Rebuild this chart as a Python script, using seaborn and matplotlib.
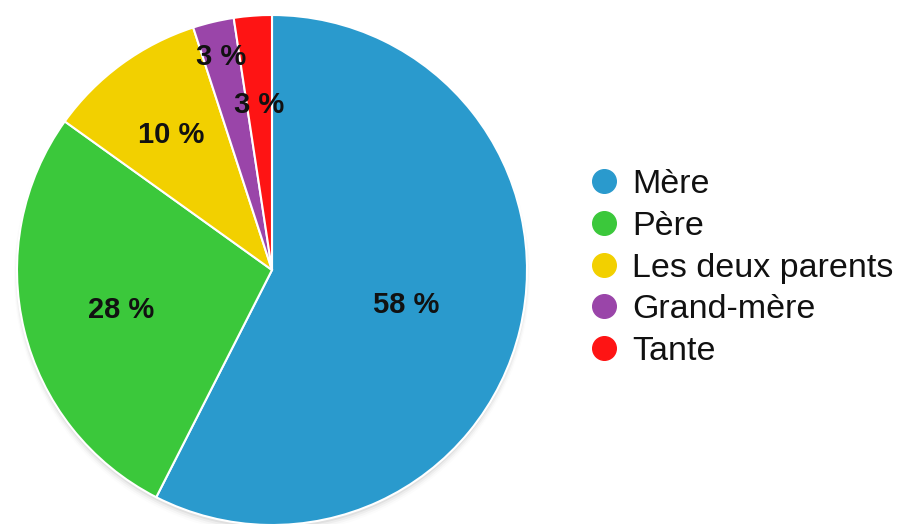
import matplotlib
matplotlib.use("Agg")
import matplotlib.pyplot as plt
from matplotlib.lines import Line2D
import numpy as np
import seaborn as sns

categories = ["Mère", "Père", "Les deux parents", "Grand-mère", "Tante"]
values = [57.5, 27.4, 10.1, 2.6, 2.4]
pct_labels = ["58 %", "28 %", "10 %", "3 %", "3 %"]
colors = ["#2A9ACD", "#3BC83B", "#F2D000", "#9A45A9", "#FE1414"]
label_radius = [0.54, 0.61, 0.67, 0.87, 0.66]

sns.set_theme(style="white")
plt.rcParams["font.family"] = ["Liberation Sans", "DejaVu Sans"]

fig = plt.figure(figsize=(9, 5.24), dpi=100)
fig.patch.set_facecolor("white")
size_px = 530
r_px = 255
cx, cy = 272, 524 - 270
ax = fig.add_axes([(cx - size_px / 2) / 900, (cy - size_px / 2) / 524,
                   size_px / 900, size_px / 524])
lim = size_px / 2 / r_px

# soft shadow
for i, a in enumerate(np.linspace(0.05, 0.01, 4)):
    shadow = plt.Circle((0.0, -0.012 - 0.004 * i), 1.0 + 0.004 * i, color="black",
                        alpha=a, zorder=0, lw=0)
    ax.add_patch(shadow)

wedges, _ = ax.pie(values, colors=colors, startangle=90, counterclock=False,
                   radius=1.0, wedgeprops=dict(edgecolor="white", linewidth=1.5))
for w in wedges:
    w.set_zorder(2)

ax.set_xlim(-lim, lim)
ax.set_ylim(-lim, lim)
ax.set_aspect("equal")
ax.axis("off")

for w, lab, rr in zip(wedges, pct_labels, label_radius):
    mid = np.deg2rad((w.theta1 + w.theta2) / 2)
    ax.text(rr * np.cos(mid), rr * np.sin(mid) - 0.012, lab, ha="center", va="center",
            fontsize=21, fontweight="bold", color="#111111", zorder=5)

handles = [Line2D([0], [0], marker="o", linestyle="none", markersize=17,
                  markerfacecolor=c, markeredgecolor=c) for c in colors]
leg = fig.legend(handles, categories, loc="center left",
                 bbox_to_anchor=(570 / 900, 1 - 268 / 524), frameon=False,
                 fontsize=24.5, labelspacing=0.31, handletextpad=0.22,
                 handlelength=1.2, borderaxespad=0)
for t in leg.get_texts():
    t.set_color("#111111")

fig.savefig("out.png", dpi=100, facecolor="white")
